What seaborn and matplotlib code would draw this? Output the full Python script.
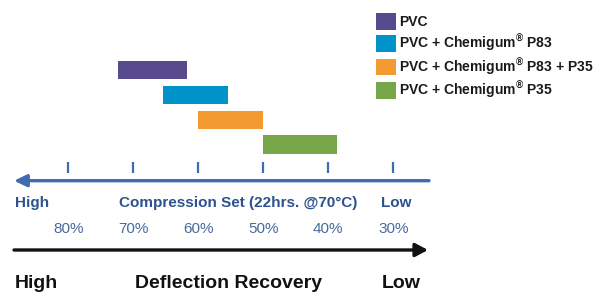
import matplotlib
matplotlib.use("Agg")
import matplotlib.pyplot as plt
import seaborn as sns
import pandas as pd
from matplotlib.patches import Patch

# compression set ranges (%)
materials = ["PVC", "PVC + Chemigum P83", "PVC + Chemigum P83 + P35", "PVC + Chemigum P35"]
legend_labels = [
    "PVC",
    "PVC + Chemigum$^{\\mathregular{®}}$ P83",
    "PVC + Chemigum$^{\\mathregular{®}}$ P83 + P35",
    "PVC + Chemigum$^{\\mathregular{®}}$ P35",
]
high_set = [72.3, 65.5, 60.0, 50.0]
low_set = [61.7, 55.4, 50.0, 38.6]
colors = ["#574B8D", "#0093C9", "#F39A30", "#77A64A"]
tick_values = [80, 70, 60, 50, 40, 30]
tick_labels = ["80%", "70%", "60%", "50%", "40%", "30%"]

df = pd.DataFrame({"material": materials, "low": low_set, "high": high_set})
df["span"] = df["high"] - df["low"]

sns.set_theme(style="white")
plt.rcParams["font.family"] = ["Liberation Sans", "DejaVu Sans"]
plt.rcParams["mathtext.fontset"] = "custom"
plt.rcParams["mathtext.rm"] = "Liberation Sans:bold"

W, H = 609, 294
fig = plt.figure(figsize=(W / 100, H / 100), dpi=100)
ax = fig.add_axes([0, 0, 1, 1])

sns.barplot(data=df, x="span", y="material", order=materials, left=df["low"],
            color=colors[0], saturation=1, errorbar=None, width=0.75, linewidth=0, ax=ax)
for bar, c in zip(ax.patches, colors):
    bar.set_facecolor(c)

# pixel mapping: 80% at x=68.3px, 6.5px per percent; first bar centred at y=70px, 24.9px apart
ax.set_xlim(80 + 68.3 / 6.5, 80 - (W - 68.3) / 6.5)
ax.set_ylim((H - 70.05) / 24.9, -70.05 / 24.9)
ax.set_axis_off()


def fx(px):
    return px / W


def fy(py):
    return 1 - py / H


blue_line = "#3F6CAE"
blue_text = "#2C5290"
pct_text = "#4A6A9C"

# tick marks above the compression set arrow
ax.vlines(tick_values, fy(173), fy(161.7), transform=ax.get_xaxis_transform(),
          color=blue_line, lw=1.6)

ax.annotate("", xy=(fx(14), fy(180.7)), xytext=(fx(429), fy(180.7)),
            xycoords="axes fraction", textcoords="axes fraction",
            arrowprops=dict(arrowstyle="-|>,head_length=0.75,head_width=0.36",
                            color=blue_line, lw=2.4, shrinkA=0, shrinkB=0,
                            mutation_scale=10))
ax.annotate("", xy=(fx(428), fy(250)), xytext=(fx(14), fy(250)),
            xycoords="axes fraction", textcoords="axes fraction",
            arrowprops=dict(arrowstyle="-|>,head_length=0.75,head_width=0.4",
                            color="#111111", lw=2.4, shrinkA=0, shrinkB=0,
                            mutation_scale=10))

for txt, x in [("High", 15), ("Compression Set (22hrs. @70°C)", 119.3), ("Low", 381)]:
    ax.text(fx(x), fy(206.7), txt, transform=ax.transAxes, color=blue_text,
            fontsize=11, fontweight="bold", ha="left", va="baseline")

for v, lab in zip(tick_values, tick_labels):
    ax.text(v, fy(233.3), lab, transform=ax.get_xaxis_transform(), color=pct_text,
            fontsize=11, ha="center", va="baseline")

for txt, x in [("High", 15), ("Deflection Recovery", 135), ("Low", 381.7)]:
    ax.text(fx(x), fy(288.5), txt, transform=ax.transAxes, color="#111111",
            fontsize=14, fontweight="bold", ha="left", va="baseline")

handles = [Patch(facecolor=c, edgecolor="none") for c in colors]
ax.legend(handles, legend_labels, loc="upper left", bbox_to_anchor=(fx(376), fy(13.5)),
          bbox_transform=fig.transFigure, frameon=False, borderpad=0, borderaxespad=0,
          handlelength=1.44, handleheight=1.44, labelspacing=0.2, handletextpad=0.25,
          prop={"size": 10, "weight": "bold"}, labelcolor="#1A1A1A")

fig.savefig("out.png", dpi=100)
